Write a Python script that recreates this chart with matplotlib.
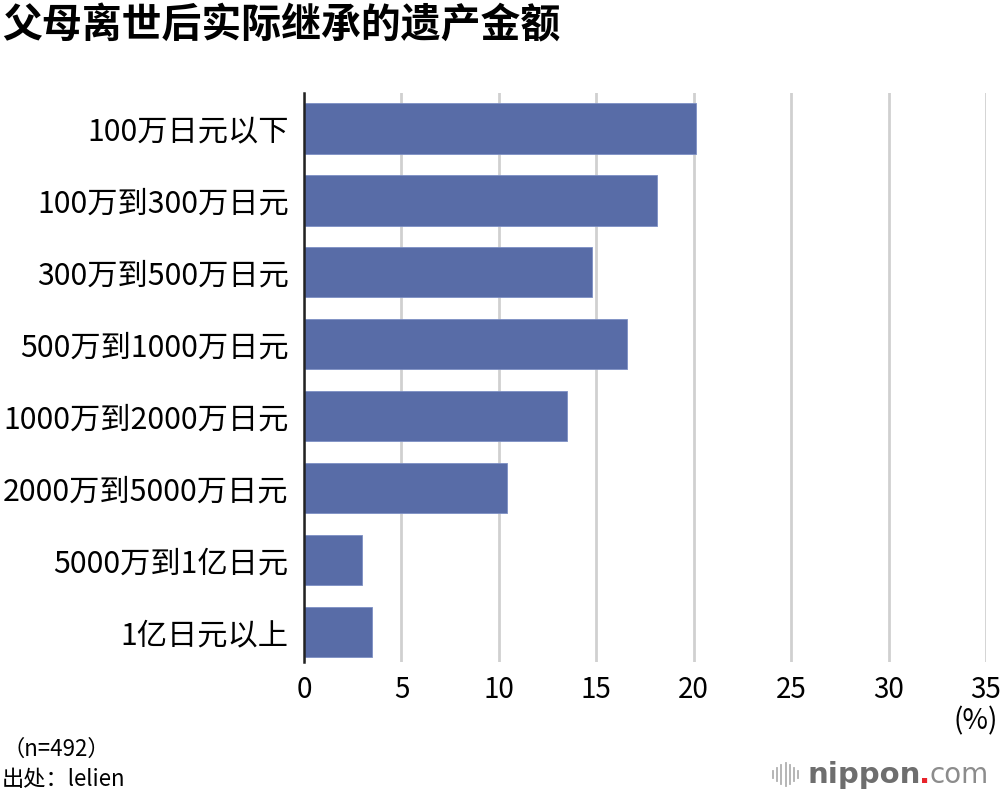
import matplotlib
matplotlib.use('Agg')
import matplotlib.pyplot as plt

plt.rcParams['font.family'] = ['Noto Sans CJK SC', 'DejaVu Sans']

# data
categories = ['100万日元以下', '100万到300万日元', '300万到500万日元', '500万到1000万日元',
              '1000万到2000万日元', '2000万到5000万日元', '5000万到1亿日元', '1亿日元以上']
values = [20.1, 18.1, 14.8, 16.6, 13.5, 10.4, 3.0, 3.5]
xticks = [0, 5, 10, 15, 20, 25, 30, 35]

fig = plt.figure(figsize=(10, 7.96), dpi=100)
ax = fig.add_axes([0.304, 0.168, 0.682, 0.715])

ax.barh(range(len(categories)), values, height=0.7, color='#586ca7',
        edgecolor='#7d8fc4', linewidth=0.6, zorder=3)

ax.set_xlim(0, 35)
ax.set_ylim(7.42, -0.49)
ax.set_xticks(xticks)
ax.set_yticks(range(len(categories)))
ax.set_yticklabels(categories, fontsize=21.8)
ax.tick_params(axis='x', labelsize=20, length=0, pad=9)
ax.tick_params(axis='y', length=0, pad=11)

ax.grid(axis='x', color='#d0d0d0', linewidth=2, zorder=0)
for s in ['top', 'right', 'bottom']:
    ax.spines[s].set_visible(False)
ax.spines['left'].set_linewidth(1.8)
ax.spines['left'].set_color('#222222')
ax.spines['left'].set_zorder(4)

fig.text(0.002, 0.967, '父母离世后实际继承的遗产金额', fontsize=28.7, fontweight='black',
         va='center', ha='left')
fig.text(0.998, 0.094, '(%)', fontsize=20, ha='right', va='center')
fig.text(0.002, 0.058, '（n=492）', fontsize=16, ha='left', va='center')
fig.text(0.002, 0.021, '出处：lelien', fontsize=16, ha='left', va='center')

# nippon.com logo
bars_h = [0.010, 0.016, 0.024, 0.030, 0.024, 0.016, 0.010]
for i, h in enumerate(bars_h):
    x = 0.773 + i * 0.0042
    fig.add_artist(plt.Line2D([x, x], [0.027 - h / 2, 0.027 + h / 2], color='#b0b0b0',
                              linewidth=1.3, transform=fig.transFigure))
t1 = fig.text(0.807, 0.027, 'nippon', fontsize=21, fontweight='bold', color='#6e6e6e',
              ha='left', va='center', family='DejaVu Sans')
fig.canvas.draw()
bb = t1.get_window_extent().transformed(fig.transFigure.inverted())
t2 = fig.text(bb.x1 - 0.001, 0.027, '.', fontsize=21, fontweight='bold', color='#e8242b',
              ha='left', va='center', family='DejaVu Sans')
fig.canvas.draw()
bb2 = t2.get_window_extent().transformed(fig.transFigure.inverted())
fig.text(bb2.x1 - 0.001, 0.027, 'com', fontsize=20, color='#8c8c8c',
         ha='left', va='center', family='DejaVu Sans')

fig.savefig('out.png', dpi=100)
